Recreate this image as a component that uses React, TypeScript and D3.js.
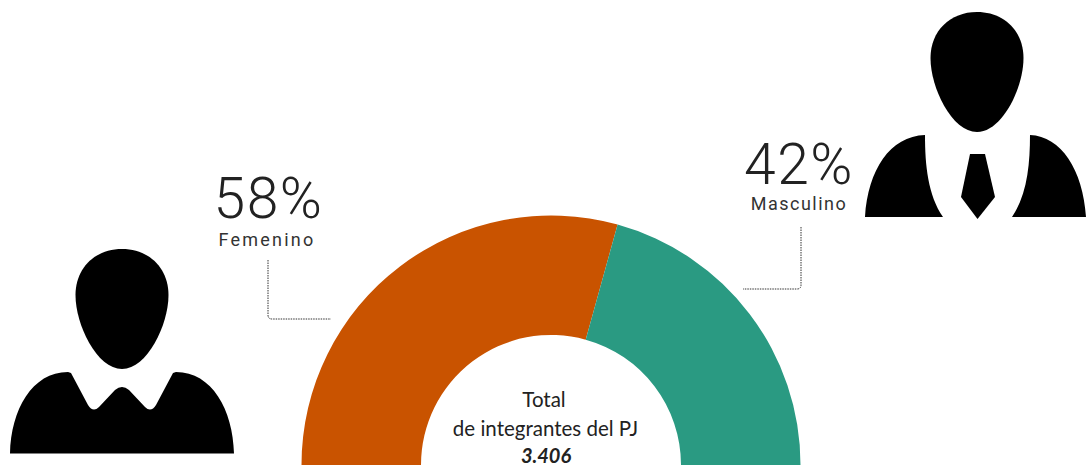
import React from "react";
import * as d3 from "d3";

const categories = ["Femenino", "Masculino"];
const shares = [58.6, 41.4];
const percentLabels = ["58%", "42%"];
const colors = ["#C95300", "#2A9A82"];
const totalLines = ["Total", "de integrantes del PJ"];
const totalValue = "3.406";

const W = 1086, H = 466;
const cx = 551, cy = 465, rOuter = 249.5, rInner = 130;

const headPath = "M0,0 C27,0 46.5,19 46.5,46 C46.5,76 25,120 0,120 C-25,120 -46.5,76 -46.5,46 C-46.5,19 -27,0 0,0 Z";
const womanBody = "M10,453.5 C11,410 32,372 68,372 L71,373 L88,405 Q93,413 99,407 L115,390 Q122,384 129,390 L145,407 Q151,413 156,405 L173,373 L176,372 C212,372 233,410 234,453.5 Z";
const manLeft = "M865,217 C868,170 890,136 925,135 C925,165 928,195 943,217 Z";
const manRight = "M1086,217 C1083,170 1061,136 1030,135 C1030,165 1027,195 1012,217 Z";
const tie = "M970,154 L985,154 L995,197 L977.5,219 L961,197 Z";

const digitFont = "Roboto, sans-serif";
const centerFont = "Lato, sans-serif";

export default function App() {
  const pie = d3.pie<number>().sort(null).startAngle(-Math.PI / 2).endAngle(Math.PI / 2);
  const arc = d3.arc<d3.PieArcDatum<number>>().innerRadius(rInner).outerRadius(rOuter);
  const slices = pie(shares);
  return (
    <svg width={W} height={H} viewBox={`0 0 ${W} ${H}`} style={{ position: "absolute", left: 0, top: 0, background: "#fff" }}>
      <g transform={`translate(${cx},${cy})`}>
        {slices.map((s, i) => <path key={categories[i]} d={arc(s) || ""} fill={colors[i]} />)}
      </g>
      <path d="M268,260 V315 Q268,319 272,319 H331" fill="none" stroke="#333" strokeWidth={1} strokeDasharray="1.5 1" />
      <path d="M801,227 V285 Q801,289 797,289 H743" fill="none" stroke="#333" strokeWidth={1} strokeDasharray="1.5 1" />

      <path transform="translate(122,249)" d={headPath} fill="#000" />
      <path d={womanBody} fill="#000" />
      <path transform="translate(977,12)" d={headPath} fill="#000" />
      <path d={manLeft} fill="#000" />
      <path d={manRight} fill="#000" />
      <path d={tie} fill="#000" />

      <text x={268.5} y={218} textAnchor="middle" fontFamily={digitFont} fontWeight={300} fontSize={57} letterSpacing={1.5} fill="#222">{percentLabels[0]}</text>
      <text x={267} y={246} textAnchor="middle" fontFamily={digitFont} fontSize={18} letterSpacing={2.2} fill="#333">{categories[0]}</text>
      <text x={799} y={184} textAnchor="middle" fontFamily={digitFont} fontWeight={300} fontSize={57} letterSpacing={1.5} fill="#222">{percentLabels[1]}</text>
      <text x={799} y={210} textAnchor="middle" fontFamily={digitFont} fontSize={18} letterSpacing={1.5} fill="#333">{categories[1]}</text>

      <text x={544} y={407} textAnchor="middle" fontFamily={centerFont} fontSize={20.5} fill="#222">{totalLines[0]}</text>
      <text x={545.5} y={436} textAnchor="middle" fontFamily={centerFont} fontSize={20.5} fill="#222">{totalLines[1]}</text>
      <text x={546} y={463} textAnchor="middle" fontFamily={centerFont} fontSize={20} fontWeight={700} fontStyle="italic" fill="#222">{totalValue}</text>
    </svg>
  );
}
